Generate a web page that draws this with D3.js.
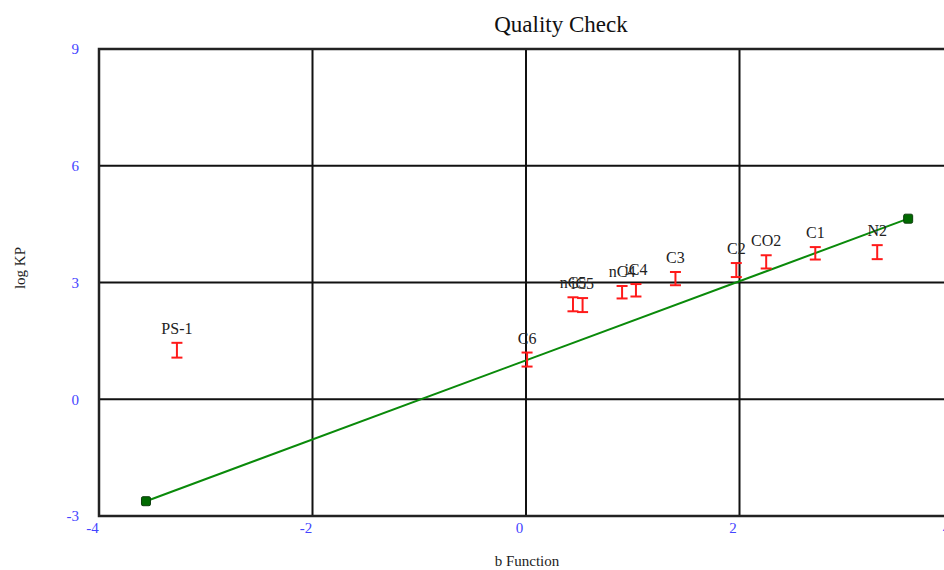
<!DOCTYPE html>
<html>
<head>
<meta charset="utf-8">
<script src="https://cdn.jsdelivr.net/npm/d3@7"></script>
<style>
html,body{margin:0;padding:0;background:#fff;overflow:hidden;}
svg{display:block;}
</style>
</head>
<body>
<svg id="chart" width="944" height="570"></svg>
<script>
const pointLabels = ["PS-1","C6","nC5","iC5","nC4","iC4","C3","C2","CO2","C1","N2"];
const bValues     = [-3.27, 0.01, 0.44, 0.53, 0.90, 1.03, 1.40, 1.97, 2.25, 2.71, 3.29];
const logKPValues = [1.26, 1.02, 2.44, 2.42, 2.75, 2.80, 3.10, 3.32, 3.53, 3.75, 3.78];
const errValues   = [0.19, 0.18, 0.18, 0.18, 0.16, 0.16, 0.17, 0.18, 0.17, 0.16, 0.18];
const lineB       = [-3.56, 3.58];
const lineLogKP   = [-2.62, 4.64];
const xTicks = [-4, -2, 0, 2, 4];
const yTicks = [-3, 0, 3, 6, 9];
const titleText = "Quality Check";
const xTitle = "b Function";
const yTitle = "log KP";

const svg = d3.select("#chart");
const serif = "'Liberation Serif','Times New Roman',serif";
const x = d3.scaleLinear().domain([-4, 4]).range([99, 953]);
const y = d3.scaleLinear().domain([-3, 9]).range([516, 49]);

// grid lines
svg.append("g").selectAll("line").data(xTicks.filter(t => t > -4))
  .join("line").attr("x1", d => x(d)).attr("x2", d => x(d))
  .attr("y1", y(9)).attr("y2", y(-3)).attr("stroke", "#111").attr("stroke-width", 2);
svg.append("g").selectAll("line").data(yTicks.filter(t => t > -3 && t < 9))
  .join("line").attr("y1", d => y(d)).attr("y2", d => y(d))
  .attr("x1", x(-4)).attr("x2", x(4)).attr("stroke", "#111").attr("stroke-width", 2);

// frame
svg.append("rect").attr("x", x(-4)).attr("y", y(9))
  .attr("width", x(4) - x(-4)).attr("height", y(-3) - y(9))
  .attr("fill", "none").attr("stroke", "#222").attr("stroke-width", 2.5);

// axes (labels only)
const fmt = d => String(d);
const xAxis = svg.append("g").attr("transform", `translate(-7,${y(-3)})`)
  .call(d3.axisBottom(x).tickValues(xTicks).tickSize(0).tickPadding(6).tickFormat(fmt));
const yAxis = svg.append("g").attr("transform", `translate(${x(-4) - 20},0)`)
  .call(d3.axisLeft(y).tickValues(yTicks).tickSize(0).tickPadding(0).tickFormat(fmt));
[xAxis, yAxis].forEach(a => {
  a.select(".domain").remove();
  a.selectAll("text").attr("fill", "#4444ff").style("font-family", serif).style("font-size", "15px");
});

// fitted line
const line = d3.line().x(d => x(d[0])).y(d => y(d[1]));
const linePts = lineB.map((b, i) => [b, lineLogKP[i]]);
svg.append("path").datum(linePts).attr("d", line)
  .attr("fill", "none").attr("stroke", "#0a8a0a").attr("stroke-width", 2);
svg.append("g").selectAll("rect").data(linePts).join("rect")
  .attr("x", d => x(d[0]) - 4.5).attr("y", d => y(d[1]) - 4.5)
  .attr("width", 9).attr("height", 9).attr("rx", 1.5)
  .attr("fill", "#006a00").attr("stroke", "#0d3d0d").attr("stroke-width", 1);

// error bars
const pts = pointLabels.map((l, i) => ({l, b: bValues[i], v: logKPValues[i], e: errValues[i]}));
const eb = svg.append("g").attr("stroke", "#ff1a1a").attr("stroke-width", 2);
pts.forEach(p => {
  const cx = x(p.b), yt = y(p.v + p.e), yb = y(p.v - p.e);
  eb.append("line").attr("x1", cx).attr("x2", cx).attr("y1", yt).attr("y2", yb);
  eb.append("line").attr("x1", cx - 5.5).attr("x2", cx + 5.5).attr("y1", yt).attr("y2", yt);
  eb.append("line").attr("x1", cx - 5.5).attr("x2", cx + 5.5).attr("y1", yb).attr("y2", yb);
});
svg.append("g").selectAll("text").data(pts).join("text")
  .attr("x", d => x(d.b)).attr("y", d => y(d.v + d.e) - 9)
  .attr("text-anchor", "middle").attr("fill", "#222")
  .style("font-family", serif).style("font-size", "16px").text(d => d.l);

// titles
svg.append("text").attr("x", 561).attr("y", 32).attr("text-anchor", "middle")
  .attr("fill", "#111").style("font-family", serif).style("font-size", "23px").text(titleText);
svg.append("text").attr("x", 527).attr("y", 566).attr("text-anchor", "middle")
  .attr("fill", "#222").style("font-family", serif).style("font-size", "15px").text(xTitle);
svg.append("text").attr("transform", "translate(25,268) rotate(-90)").attr("text-anchor", "middle")
  .attr("fill", "#222").style("font-family", serif).style("font-size", "15px").text(yTitle);
</script>
</body>
</html>
